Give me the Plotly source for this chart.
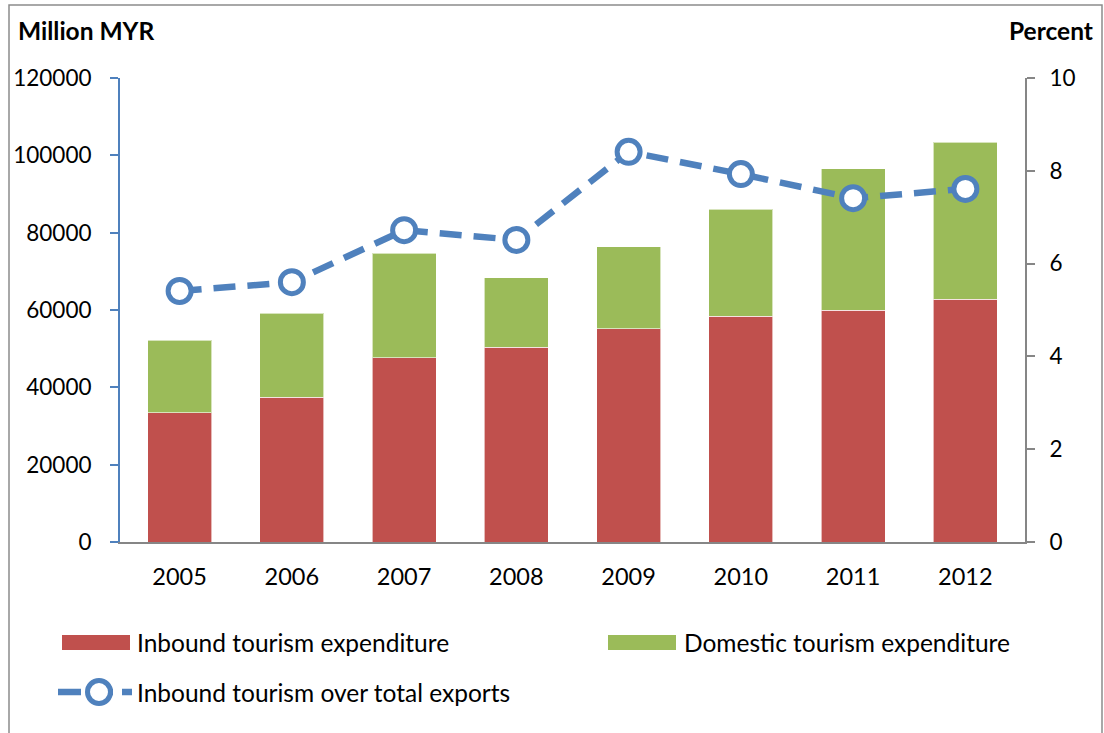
import plotly.graph_objects as go

years = ["2005", "2006", "2007", "2008", "2009", "2010", "2011", "2012"]
inbound = [33400, 37500, 47600, 50400, 55100, 58400, 60000, 62800]
domestic = [18800, 21700, 27100, 17900, 21200, 27700, 36500, 40600]
share_pct = [5.41, 5.60, 6.72, 6.51, 8.41, 7.93, 7.41, 7.61]

RED = "#C0504D"
GREEN = "#9BBB59"
BLUE = "#4F81BD"
GRAY = "#868686"
FONT = "Lato"

W, H = 1104, 733
L, R, T, B = 120, 1025, 78, 542


def px(x):
    return (x - L) / (R - L)


def py(y):
    return (B - y) / (B - T)


fig = go.Figure()
fig.add_trace(go.Bar(x=years, y=inbound, name="Inbound tourism expenditure",
                     marker=dict(color=RED, line=dict(color="rgba(255,255,255,0.6)", width=1)),
                     width=0.57, showlegend=False))
fig.add_trace(go.Bar(x=years, y=domestic, name="Domestic tourism expenditure",
                     marker=dict(color=GREEN, line=dict(color="rgba(255,255,255,0.6)", width=1)),
                     width=0.57, showlegend=False))
fig.add_trace(go.Scatter(x=years, y=share_pct, yaxis="y2", mode="lines+markers",
                         name="Inbound tourism over total exports",
                         line=dict(color=BLUE, width=6.5, dash="22px,12px"),
                         marker=dict(symbol="circle", size=23, color="white",
                                     line=dict(color=BLUE, width=5)),
                         showlegend=False))

shapes = [
    # outer frame
    dict(type="rect", xref="paper", yref="paper", x0=px(9), x1=px(1102), y0=py(5), y1=py(760),
         line=dict(color="#8C8C8C", width=1.5), fillcolor="rgba(0,0,0,0)", layer="below"),
    # legend swatches
    dict(type="rect", xref="paper", yref="paper", x0=px(62), x1=px(130), y0=py(650), y1=py(635),
         line=dict(width=0), fillcolor=RED),
    dict(type="rect", xref="paper", yref="paper", x0=px(608), x1=px(676), y0=py(650), y1=py(635),
         line=dict(width=0), fillcolor=GREEN),
    dict(type="line", xref="paper", yref="paper", x0=px(58), x1=px(132), y0=py(692), y1=py(692),
         line=dict(color=BLUE, width=6.5, dash="23px,9px")),
    dict(type="circle", xref="paper", yref="paper", x0=px(87.5), x1=px(110.5), y0=py(703.5), y1=py(680.5),
         line=dict(color=BLUE, width=5), fillcolor="white"),
]

TXT = 24.5
TICK = 23.5
YTICK = 22.5
legend_font = dict(family=FONT, size=TXT, color="black")
annotations = [
    dict(text="<b>Million MYR</b>", xref="paper", yref="paper", x=px(16), y=py(30),
         xanchor="left", yanchor="middle", showarrow=False, font=dict(family=FONT, size=TXT, color="black")),
    dict(text="<b>Percent</b>", xref="paper", yref="paper", x=px(1095), y=py(30),
         xanchor="right", yanchor="middle", showarrow=False, font=dict(family=FONT, size=TXT, color="black")),
    dict(text="Inbound tourism expenditure", xref="paper", yref="paper", x=px(135), y=py(642),
         xanchor="left", yanchor="middle", showarrow=False, font=legend_font),
    dict(text="Domestic tourism expenditure", xref="paper", yref="paper", x=px(682), y=py(642),
         xanchor="left", yanchor="middle", showarrow=False, font=legend_font),
    dict(text="Inbound tourism over total exports", xref="paper", yref="paper", x=px(135), y=py(692),
         xanchor="left", yanchor="middle", showarrow=False, font=legend_font),
]

fig.update_layout(
    width=W, height=H,
    margin=dict(l=L, r=W - R, t=T, b=H - B, pad=0, autoexpand=False),
    barmode="stack",
    paper_bgcolor="white", plot_bgcolor="white",
    font=dict(family=FONT, size=TICK, color="black"),
    shapes=shapes, annotations=annotations,
    showlegend=False,
    xaxis=dict(showline=True, linecolor=GRAY, linewidth=2, ticks="", showgrid=False, automargin=False,
               ticklabelstandoff=13, tickfont=dict(size=TICK)),
    yaxis=dict(range=[0, 120000], dtick=20000, tickformat="d", showgrid=False, zeroline=False,
               automargin=False,
               showline=True, linecolor=BLUE, linewidth=2, ticks="outside", ticklen=8,
               tickcolor=BLUE, tickwidth=2, ticklabelstandoff=14, tickfont=dict(size=YTICK)),
    yaxis2=dict(range=[0, 10], dtick=2, overlaying="y", side="right", showgrid=False, zeroline=False,
                automargin=False,
                showline=True, linecolor=GRAY, linewidth=2, ticks="outside", ticklen=8,
                tickcolor=GRAY, tickwidth=2, ticklabelstandoff=10, tickfont=dict(size=YTICK)),
)

fig.write_html("out.html")
